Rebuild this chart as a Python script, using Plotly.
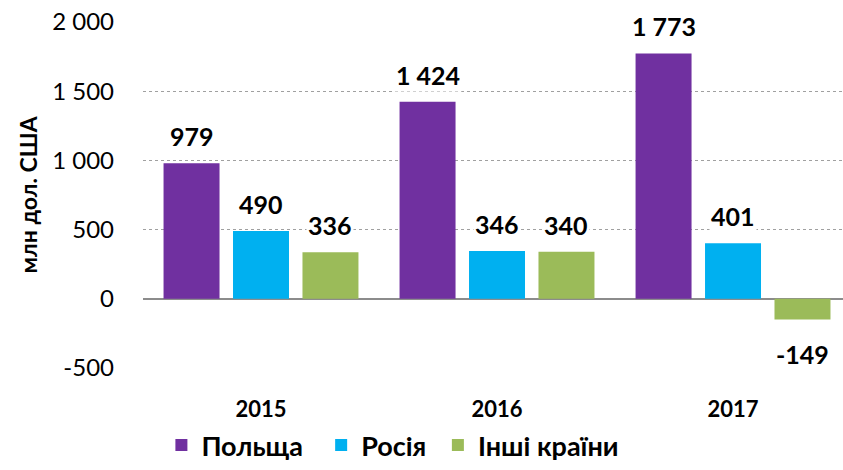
import plotly.graph_objects as go

years = ["2015", "2016", "2017"]
series_names = ["Польща", "Росія", "Інші країни"]
poland = [979, 1424, 1773]
russia = [490, 346, 401]
others = [336, 340, -149]
colors = ["#7030A0", "#00B0F0", "#9BBB59"]

y_ticks = [-500, 0, 500, 1000, 1500, 2000]


def fmt(v):
    s = f"{abs(v):,}".replace(",", " ")
    return ("-" if v < 0 else "") + s


FONT = "Lato"
BARGAP = 0.117
GROUPGAP = 0.194
series = [poland, russia, others]
legend_pad = [2, 1, 0]  # trailing non-breaking spaces to match legend spacing

fig = go.Figure()
for name, vals, col, pad in zip(series_names, series, colors, legend_pad):
    fig.add_trace(go.Bar(
        x=years, y=vals, name=name + "\u00a0" * pad,
        marker=dict(color=col, line=dict(width=0)),
        hoverinfo="skip",
    ))

# data labels with white background (like the reference), placed at each bar
n = len(series)
slot = (1 - BARGAP) / n
for i, vals in enumerate(series):
    for j, v in enumerate(vals):
        fig.add_annotation(
            x=j + (i - (n - 1) / 2) * slot, y=v, xref="x", yref="y",
            text=fmt(v), showarrow=False,
            yanchor="bottom" if v >= 0 else "top",
            yshift=10 if v >= 0 else -18,
            bgcolor="white", borderpad=1,
            font=dict(family=FONT, size=25, color="#000000", weight="bold"),
        )

fig.update_layout(
    width=843, height=470,
    margin=dict(l=143, r=0, t=22, b=102),
    paper_bgcolor="white", plot_bgcolor="white",
    barmode="group", bargap=BARGAP, bargroupgap=GROUPGAP,
    font=dict(family=FONT, color="#000000"),
    showlegend=True,
    legend=dict(orientation="h", x=0.357, xanchor="center", y=-0.225, yanchor="middle",
                font=dict(family=FONT, size=27, color="#000000", weight="bold"),
                itemwidth=30, traceorder="normal"),
)
fig.update_xaxes(
    range=[-0.5, 2.466], showgrid=False, showline=False, zeroline=False,
    tickfont=dict(family=FONT, size=22, weight="bold", color="#000000"),
    ticks="", ticklabelstandoff=26, automargin=False,
)
fig.update_yaxes(
    range=[-500, 2000], tickvals=y_ticks, ticktext=[fmt(v) for v in y_ticks],
    showgrid=True, gridcolor="#A0A0A0", griddash="dot", gridwidth=1,
    zeroline=True, zerolinecolor="#8C8C8C", zerolinewidth=2,
    showline=False, ticks="", ticklabelstandoff=28, automargin=False,
    tickfont=dict(family=FONT, size=24, color="#000000"),
    title=dict(text="млн дол. США", font=dict(family=FONT, size=23, weight="bold", color="#000000"), standoff=8),
)

fig.write_html("out.html", config={"displayModeBar": False},
               post_script="document.body.style.margin='0';")
